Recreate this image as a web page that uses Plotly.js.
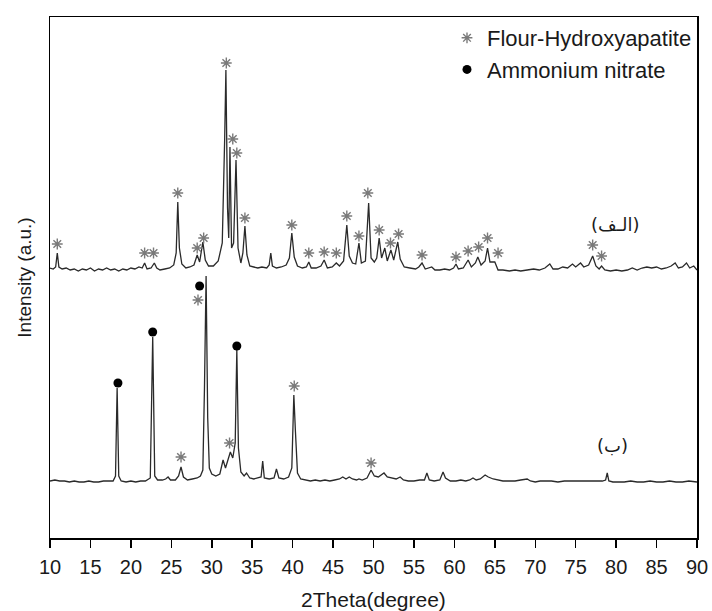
<!DOCTYPE html>
<html>
<head>
<meta charset="utf-8">
<script src="https://cdn.plot.ly/plotly-3.0.1.min.js"></script>
<style>html,body{margin:0;padding:0;background:#fff;}#chart{width:712px;height:611px;}</style>
</head>
<body>
<div id="chart"></div>
<script>
// Pattern (الف) – Flour-Hydroxyapatite sample (offset upward)
const alefTheta = [10.0,10.4,10.7,10.9,11.1,11.5,12.0,12.5,13.0,13.5,14.0,14.5,15.0,15.5,16.0,16.5,17.0,17.5,18.0,18.5,19.0,19.5,20.0,20.5,21.0,21.4,21.7,22.0,22.5,22.9,23.2,23.6,24.2,24.8,25.3,25.6,25.8,26.0,26.3,26.8,27.3,27.8,28.2,28.5,28.9,29.2,29.6,30.2,30.8,31.3,31.6,31.75,31.95,32.1,32.25,32.45,32.7,33.0,33.25,33.6,33.85,34.1,34.35,34.7,35.2,35.7,36.2,36.8,37.1,37.3,37.5,38.0,38.6,39.2,39.6,39.9,40.2,40.6,41.2,41.7,42.0,42.3,42.9,43.5,43.9,44.3,44.9,45.4,45.8,46.3,46.7,47.0,47.4,47.8,48.2,48.5,49.0,49.4,49.7,50.1,50.4,50.7,51.0,51.4,51.7,52.15,52.5,53.0,53.3,53.8,54.5,55.2,55.6,56.0,56.4,56.9,57.2,57.6,58.2,58.8,59.4,59.9,60.2,60.5,61.1,61.7,62.1,62.6,62.9,63.3,63.8,64.1,64.4,65.0,65.4,66.0,66.8,67.5,68.2,69.0,69.8,70.5,71.2,71.8,72.2,72.8,73.4,74.0,74.6,75.0,75.6,76.0,76.6,77.1,77.5,77.9,78.2,78.6,79.3,80.0,80.7,81.4,82.0,82.6,83.2,83.8,84.4,85.0,85.6,86.2,86.8,87.3,87.7,88.2,88.7,89.1,89.6,90.0];
const alefIntensity = [270,269,271,285,271,269,270,268,269,267,269,268,270,267,269,268,270,268,269,267,269,268,270,269,271,270,275,269,270,275,270,268,269,270,273,285,336,290,274,270,271,273,283,276,296,278,272,272,277,295,400,468,330,300,391,290,295,378,290,275,285,312,283,272,271,270,271,270,273,285,272,270,271,273,280,305,281,272,270,271,276,270,270,272,278,270,271,275,272,277,313,282,275,274,295,275,277,335,280,276,280,300,280,290,277,288,278,296,279,271,270,269,271,275,269,270,271,268,268,269,268,270,274,269,270,278,271,275,281,273,277,290,276,276,268,268,267,268,267,268,269,268,270,274,269,269,271,270,274,271,275,271,273,282,272,269,272,268,267,268,267,268,270,268,270,271,270,271,269,270,272,275,270,271,275,270,272,268];

// Pattern (ب) – with ammonium nitrate
const beTheta = [10.0,10.6,11.2,11.8,12.4,13.0,13.6,14.2,14.8,15.4,16.0,16.6,17.2,17.8,18.1,18.3,18.5,18.8,19.4,20.0,20.6,21.2,21.8,22.4,22.7,22.95,23.3,23.9,24.3,24.6,24.9,25.5,25.9,26.2,26.5,27.0,27.6,28.2,28.6,28.9,29.1,29.3,29.5,29.7,30.0,30.5,31.0,31.4,31.7,32.0,32.3,32.6,32.9,33.1,33.3,33.6,34.0,34.3,34.7,35.2,35.8,36.1,36.3,36.5,37.1,37.7,38.0,38.3,38.9,39.5,39.9,40.15,40.35,40.6,41.0,41.6,42.2,42.8,43.4,44.0,44.6,45.2,45.8,46.2,46.6,47.0,47.4,47.9,48.2,48.6,49.2,49.7,50.1,50.6,51.3,51.7,52.3,52.8,53.3,53.7,54.3,55.0,55.7,56.3,56.6,56.9,57.5,58.2,58.6,58.9,59.5,60.2,60.8,61.4,61.9,62.3,62.7,63.2,63.8,64.2,64.8,65.4,66.0,66.8,67.5,68.2,69.0,69.4,70.0,70.6,71.2,72.0,72.8,73.6,74.4,75.2,76.0,76.8,77.6,78.3,78.7,78.9,79.1,79.6,80.3,81.0,81.8,82.6,83.4,84.2,85.0,85.8,86.6,87.4,88.2,89.0,90.0];
const beIntensity = [57,58,57,57,56,57,56,56,57,56,56,57,57,57,62,150,62,57,56,57,56,57,57,60,201,62,58,58,59,61,58,58,62,71,61,58,59,60,62,68,150,262,120,70,64,62,64,78,70,78,86,80,95,188,90,66,62,65,60,59,60,61,77,60,59,60,69,60,59,61,70,143,106,65,59,58,57,58,57,58,57,58,59,61,59,61,59,58,59,58,60,68,62,61,65,61,60,59,61,58,57,57,58,58,65,58,57,58,66,60,57,57,58,57,58,60,58,59,63,61,59,58,57,57,57,58,59,57,56,57,57,57,56,57,57,57,57,57,57,57,58,65,57,56,56,56,57,56,56,57,56,56,57,56,56,57,56];

// Phase markers
const hapTheta = [10.9,21.7,22.8,25.8,28.2,29.0,31.8,32.6,33.1,34.1,39.9,42.0,43.9,45.4,46.7,48.2,49.3,50.7,52.1,53.1,56.0,60.2,61.7,63.0,64.1,65.4,77.1,78.2,26.2,28.3,32.2,40.2,49.7];
const hapY     = [294,285,285,345,290,300,475,399,385,320,313,285,286,285,322,302,345,308,295,304,283,281,287,291,300,285,293,282,81,238,95,152,75];
const anTheta  = [18.4,22.7,28.5,33.1];
const anY      = [155,206,252,192];

const seriesNames = ["(الـف)", "(ب)"];
const legendNames = ["Flour-Hydroxyapatite", "Ammonium nitrate"];

const lineStyle = {color:'#2a2a2a', width:1.3};
const traces = [
  {x:alefTheta, y:alefIntensity, type:'scatter', mode:'lines', line:lineStyle, showlegend:false, name:seriesNames[0]},
  {x:beTheta, y:beIntensity, type:'scatter', mode:'lines', line:lineStyle, showlegend:false, name:seriesNames[1]},
  {x:hapTheta, y:hapY, type:'scatter', mode:'markers', name:legendNames[0],
   marker:{symbol:'asterisk-open', size:9, color:'#7a7a7a', line:{color:'#7a7a7a', width:1.4}}},
  {x:anTheta, y:anY, type:'scatter', mode:'markers', name:legendNames[1],
   marker:{symbol:'circle', size:9, color:'#000'}}
];

const baseFont = {family:'Liberation Sans, Arial, sans-serif', color:'#1a1a1a'};
const layout = {
  width:712, height:611,
  margin:{l:50, r:15, t:17, b:73},
  paper_bgcolor:'#fff', plot_bgcolor:'#fff',
  font:baseFont,
  showlegend:true,
  legend:{x:1, xanchor:'right', y:1, yanchor:'top', bgcolor:'rgba(0,0,0,0)',
          font:{family:baseFont.family, size:22, color:'#1a1a1a'}, itemwidth:30, tracegroupgap:0},
  xaxis:{range:[10,90], tick0:10, dtick:5, ticks:'outside', ticklen:8, tickwidth:1.5, tickcolor:'#000',
         showline:true, mirror:true, linecolor:'#000', linewidth:1.5, showgrid:false, zeroline:false,
         ticklabelstandoff:2,
         tickfont:{family:baseFont.family, size:20, color:'#1a1a1a'},
         title:{text:'2Theta(degree)', font:{family:baseFont.family, size:21, color:'#1a1a1a'}, standoff:18}},
  yaxis:{range:[0,521], showticklabels:false, ticks:'', showline:true, mirror:true, linecolor:'#000', linewidth:1.5,
         showgrid:false, zeroline:false,
         title:{text:'Intensity (a.u.)', font:{family:baseFont.family, size:19, color:'#1a1a1a'}, standoff:12}},
  annotations:[
    {x:79.8, y:314, xref:'x', yref:'y', text:seriesNames[0], showarrow:false,
     font:{family:'DejaVu Sans, sans-serif', size:18, color:'#1a1a1a'}},
    {x:79.5, y:93, xref:'x', yref:'y', text:seriesNames[1], showarrow:false,
     font:{family:'DejaVu Sans, sans-serif', size:18, color:'#1a1a1a'}}
  ]
};
Plotly.newPlot('chart', traces, layout, {displayModeBar:false, staticPlot:true});
</script>
</body>
</html>
